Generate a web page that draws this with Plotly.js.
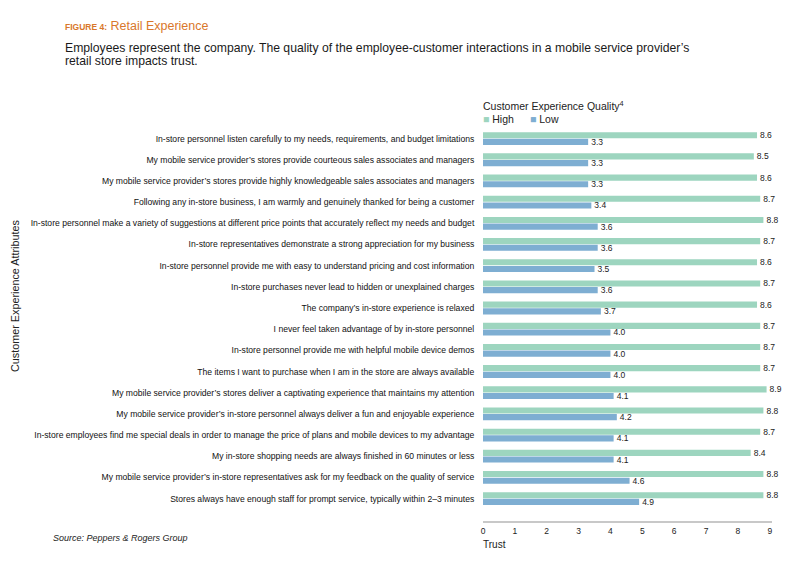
<!DOCTYPE html>
<html>
<head>
<meta charset="utf-8">
<script src="https://cdn.plot.ly/plotly-3.0.1.min.js"></script>
<style>html,body{margin:0;padding:0;background:#fff;}#chart{width:800px;height:562px;}</style>
</head>
<body>
<div id="chart"></div>
<script>
const attributes = [
  "In-store personnel listen carefully to my needs, requirements, and budget limitations",
  "My mobile service provider\u2019s stores provide courteous sales associates and managers",
  "My mobile service provider\u2019s stores provide highly knowledgeable sales associates and managers",
  "Following any in-store business, I am warmly and genuinely thanked for being a customer",
  "In-store personnel make a variety of suggestions at different price points that accurately reflect my needs and budget",
  "In-store representatives demonstrate a strong appreciation for my business",
  "In-store personnel provide me with easy to understand pricing and cost information",
  "In-store purchases never lead to hidden or unexplained charges",
  "The company\u2019s in-store experience is relaxed",
  "I never feel taken advantage of by in-store personnel",
  "In-store personnel provide me with helpful mobile device demos",
  "The items I want to purchase when I am in the store are always available",
  "My mobile service provider\u2019s stores deliver a captivating experience that maintains my attention",
  "My mobile service provider\u2019s in-store personnel always deliver a fun and enjoyable experience",
  "In-store employees find me special deals in order to manage the price of plans and mobile devices to my advantage",
  "My in-store shopping needs are always finished in 60 minutes or less",
  "My mobile service provider\u2019s in-store representatives ask for my feedback on the quality of service",
  "Stores always have enough staff for prompt service, typically within 2\u20133 minutes"
];
const highValues = [8.6, 8.5, 8.6, 8.7, 8.8, 8.7, 8.6, 8.7, 8.6, 8.7, 8.7, 8.7, 8.9, 8.8, 8.7, 8.4, 8.8, 8.8];
const lowValues  = [3.3, 3.3, 3.3, 3.4, 3.6, 3.6, 3.5, 3.6, 3.7, 4.0, 4.0, 4.0, 4.1, 4.2, 4.1, 4.1, 4.6, 4.9];
const xTicks = [0, 1, 2, 3, 4, 5, 6, 7, 8, 9];
const seriesNames = ["High", "Low"];
const seriesColors = ["#9dd5bf", "#7eaed2"];

const FONT = "Liberation Sans, Arial, sans-serif";
const INK = "#222";
const labelFont = {family: FONT, size: 8.5, color: INK};

// pixel -> paper helpers (plot area: x 483..772, y 128..521)
const PL = 483, PW = 289, PB = 521, PH = 393;
const px = v => (v - PL) / PW;
const py = v => (PB - v) / PH;

const traces = [
  {
    type: "bar", orientation: "h", name: seriesNames[0],
    y: attributes, x: highValues,
    marker: {color: seriesColors[0]},
    text: highValues.map(v => v.toFixed(1)),
    textposition: "outside", textfont: labelFont,
    constraintext: "none", cliponaxis: false, hoverinfo: "x"
  },
  {
    type: "bar", orientation: "h", name: seriesNames[1],
    y: attributes, x: lowValues,
    marker: {color: seriesColors[1]},
    text: lowValues.map(v => v.toFixed(1)),
    textposition: "outside", textfont: labelFont,
    constraintext: "none", cliponaxis: false, hoverinfo: "x"
  }
];

const layout = {
  width: 800, height: 562,
  paper_bgcolor: "#fff", plot_bgcolor: "#fff",
  margin: {l: 483, r: 28, t: 128, b: 41, autoexpand: false},
  barmode: "group", bargap: 0.37, bargroupgap: 0.08,
  showlegend: false,
  xaxis: {
    range: [0, 9.07], tickvals: xTicks, ticktext: xTicks.map(String),
    showgrid: false, zeroline: false, showline: true, linecolor: "#c8c8c8", linewidth: 1.5,
    ticks: "outside", ticklen: 1, tickcolor: "rgba(0,0,0,0)",
    tickfont: {family: FONT, size: 8.5, color: INK}, automargin: false, fixedrange: true
  },
  yaxis: {
    type: "category", categoryorder: "array", categoryarray: attributes,
    range: [18.06, -0.5], showgrid: false, zeroline: false, showline: false,
    ticks: "outside", ticklen: 6, tickcolor: "rgba(0,0,0,0)",
    tickfont: {family: FONT, size: 8.6, color: "#111"}, automargin: false, fixedrange: true
  },
  annotations: [
    {xref: "paper", yref: "paper", x: px(63), y: py(26), xanchor: "left", yanchor: "middle", showarrow: false,
     text: "<b><span style='font-size:8.5px'>FIGURE 4:</span></b> Retail Experience",
     font: {family: FONT, size: 12.5, color: "#d9772b"}},
    {xref: "paper", yref: "paper", x: px(63), y: py(48), xanchor: "left", yanchor: "middle", showarrow: false,
     text: "Employees represent the company. The quality of the employee-customer interactions in a mobile service provider\u2019s",
     font: {family: FONT, size: 12.2, color: "#1a1a1a"}},
    {xref: "paper", yref: "paper", x: px(63), y: py(61), xanchor: "left", yanchor: "middle", showarrow: false,
     text: "retail store impacts trust.",
     font: {family: FONT, size: 12.2, color: "#1a1a1a"}},
    {xref: "paper", yref: "paper", x: px(481), y: py(105), xanchor: "left", yanchor: "middle", showarrow: false,
     text: "Customer Experience Quality<sup>4</sup>",
     font: {family: FONT, size: 10.5, color: INK}},
    {xref: "paper", yref: "paper", x: px(481), y: py(119), xanchor: "left", yanchor: "middle", showarrow: false,
     text: "<span style='color:" + seriesColors[0] + "'>\u25A0</span> " + seriesNames[0],
     font: {family: FONT, size: 10.5, color: INK}},
    {xref: "paper", yref: "paper", x: px(528), y: py(119), xanchor: "left", yanchor: "middle", showarrow: false,
     text: "<span style='color:" + seriesColors[1] + "'>\u25A0</span> " + seriesNames[1],
     font: {family: FONT, size: 10.5, color: INK}},
    {xref: "paper", yref: "paper", x: px(15), y: py(296), xanchor: "center", yanchor: "middle", showarrow: false, textangle: -90,
     text: "Customer Experience Attributes", font: {family: FONT, size: 10.8, color: INK}},
    {xref: "paper", yref: "paper", x: px(481), y: py(544), xanchor: "left", yanchor: "middle", showarrow: false,
     text: "Trust", font: {family: FONT, size: 10, color: INK}},
    {xref: "paper", yref: "paper", x: px(51), y: py(538), xanchor: "left", yanchor: "middle", showarrow: false,
     text: "<i>Source: Peppers &amp; Rogers Group</i>", font: {family: FONT, size: 9, color: INK}}
  ]
};

Plotly.newPlot("chart", traces, layout, {displayModeBar: false, staticPlot: true});
</script>
</body>
</html>
